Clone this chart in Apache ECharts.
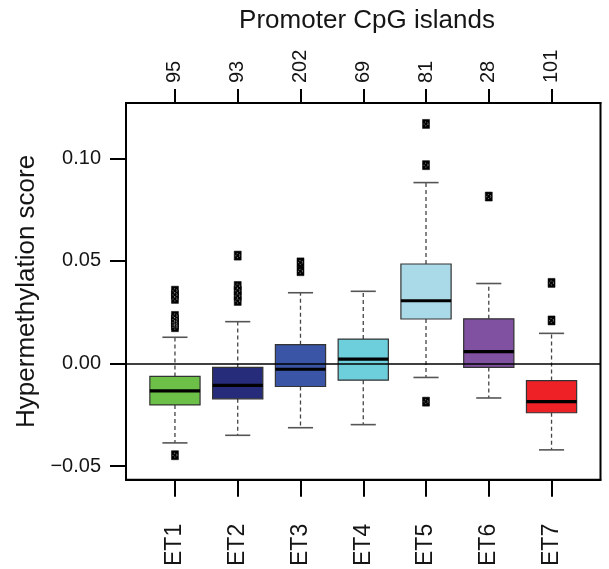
<!DOCTYPE html>
<html>
<head>
<meta charset="utf-8">
<script src="https://cdn.jsdelivr.net/npm/echarts@6/dist/echarts.min.js"></script>
<style>
  html, body { margin: 0; padding: 0; background: #fff; }
  #chart { width: 609px; height: 569px; }
</style>
</head>
<body>
<div id="chart"></div>
<script>
// group labels and sizes (top axis)
const categories = ['ET1', 'ET2', 'ET3', 'ET4', 'ET5', 'ET6', 'ET7'];
const counts = [95, 93, 202, 69, 81, 28, 101];

// box statistics
const lowerWhisker = [-0.0387, -0.0350, -0.0313, -0.0298, -0.0068, -0.0168, -0.0421];
const q1 = [-0.0202, -0.0172, -0.0112, -0.0081, 0.0217, -0.0019, -0.0240];
const median = [-0.0133, -0.0107, -0.0028, 0.0021, 0.0306, 0.0058, -0.0186];
const q3 = [-0.0063, -0.0019, 0.0092, 0.0119, 0.0485, 0.0218, -0.0083];
const upperWhisker = [0.0128, 0.0204, 0.0345, 0.0352, 0.0882, 0.0390, 0.0147];

// outliers per group
const outliers = [
  [-0.0447, 0.0355, 0.0335, 0.0315, 0.0232, 0.0215, 0.0200, 0.0188, 0.0177],
  [0.0526, 0.0378, 0.0355, 0.0330, 0.0305],
  [0.0493, 0.0450],
  [],
  [0.1168, 0.0967, -0.0186],
  [0.0814],
  [0.0393, 0.0210]
];

const yTicks = [-0.05, 0, 0.05, 0.10];
const boxColors = ['#6cbf47', '#272c7a', '#3a55a5', '#6dcedc', '#aad9e8', '#7f51a0', '#ee2226'];

const positions = categories.map((c, i) => i + 1);

const boxData = positions.map((x, i) => [x, lowerWhisker[i], q1[i], median[i], q3[i], upperWhisker[i]]);
const outlierData = [];
outliers.forEach((vals, i) => vals.forEach(v => outlierData.push([i + 1, v])));

function renderBox(params, api) {
  const x = api.value(0);
  const i = params.dataIndex;
  const pLow = api.coord([x, api.value(1)]);
  const pQ1 = api.coord([x, api.value(2)]);
  const pMed = api.coord([x, api.value(3)]);
  const pQ3 = api.coord([x, api.value(4)]);
  const pHigh = api.coord([x, api.value(5)]);
  const boxW = api.size([0.8, 0])[0];
  const capW = api.size([0.4, 0])[0];
  const cx = pMed[0];
  const whisker = { stroke: '#444', lineWidth: 1.3, lineDash: [4, 3] };
  const cap = { stroke: '#555', lineWidth: 1.6 };
  return {
    type: 'group',
    children: [
      { type: 'line', shape: { x1: cx, y1: pQ3[1], x2: cx, y2: pHigh[1] }, style: whisker },
      { type: 'line', shape: { x1: cx, y1: pQ1[1], x2: cx, y2: pLow[1] }, style: whisker },
      { type: 'line', shape: { x1: cx - capW / 2, y1: pHigh[1], x2: cx + capW / 2, y2: pHigh[1] }, style: cap },
      { type: 'line', shape: { x1: cx - capW / 2, y1: pLow[1], x2: cx + capW / 2, y2: pLow[1] }, style: cap },
      {
        type: 'rect',
        shape: { x: cx - boxW / 2, y: pQ3[1], width: boxW, height: pQ1[1] - pQ3[1] },
        style: { fill: boxColors[i], stroke: '#333', lineWidth: 1.2 }
      },
      { type: 'line', shape: { x1: cx - boxW / 2, y1: pMed[1], x2: cx + boxW / 2, y2: pMed[1] }, style: { stroke: '#000', lineWidth: 3.2 } }
    ]
  };
}

const chart = echarts.init(document.getElementById('chart'), null, { renderer: 'canvas' });

const fontFamily = '"Liberation Sans", Arial, Helvetica, sans-serif';
const textColor = '#151515';

const option = {
  animation: false,
  title: {
    text: 'Promoter CpG islands',
    left: 362,
    textAlign: 'center',
    top: 3,
    textStyle: { fontFamily: fontFamily, fontSize: 26, fontWeight: 'normal', color: textColor }
  },
  grid: {
    left: 126,
    top: 103,
    width: 474.5,
    height: 378,
    show: true,
    borderColor: '#000',
    borderWidth: 2,
    backgroundColor: 'transparent'
  },
  xAxis: [
    {
      type: 'value',
      position: 'bottom',
      min: 0.22,
      max: 7.78,
      splitLine: { show: false },
      axisLine: { show: true, onZero: false, lineStyle: { color: '#000', width: 2 } },
      axisTick: { show: true, customValues: positions, length: 17, lineStyle: { color: '#000', width: 2 } },
      axisLabel: {
        customValues: positions,
        rotate: 90,
        margin: 44,
        fontFamily: fontFamily,
        fontSize: 23,
        color: textColor,
        formatter: v => categories[Math.round(v) - 1]
      }
    },
    {
      type: 'value',
      position: 'top',
      min: 0.22,
      max: 7.78,
      splitLine: { show: false },
      axisLine: { show: true, onZero: false, lineStyle: { color: '#000', width: 2 } },
      axisTick: { show: true, customValues: positions, length: 14, lineStyle: { color: '#000', width: 2 } },
      axisLabel: {
        customValues: positions,
        rotate: -90,
        margin: 20,
        fontFamily: fontFamily,
        fontSize: 20,
        color: textColor,
        formatter: v => String(counts[Math.round(v) - 1])
      }
    }
  ],
  yAxis: {
    type: 'value',
    min: -0.0567,
    max: 0.127,
    name: 'Hypermethylation score',
    nameLocation: 'middle',
    nameGap: 86,
    nameTextStyle: { fontFamily: fontFamily, fontSize: 26, color: textColor },
    splitLine: { show: false },
    axisLine: { show: true, onZero: false, lineStyle: { color: '#000', width: 2 } },
    axisTick: { show: true, customValues: yTicks, length: 16, lineStyle: { color: '#000', width: 2 } },
    axisLabel: {
      customValues: yTicks,
      margin: 25,
      fontFamily: fontFamily,
      fontSize: 20,
      color: textColor,
      formatter: v => (v < 0 ? '\u2212' : '') + Math.abs(v).toFixed(2)
    }
  },
  series: [
    {
      type: 'custom',
      xAxisIndex: 0,
      renderItem: renderBox,
      data: boxData,
      encode: { x: 0, y: [1, 2, 3, 4, 5] },
      z: 3,
      markLine: {
        silent: true,
        symbol: 'none',
        label: { show: false },
        lineStyle: { color: '#000', width: 1.6, type: 'solid' },
        data: [{ yAxis: 0 }]
      }
    },
    {
      type: 'scatter',
      xAxisIndex: 0,
      data: outlierData,
      symbol: 'rect',
      symbolSize: [7, 9],
      itemStyle: { color: '#000', borderColor: '#000', borderWidth: 0.5, opacity: 1 },
      z: 4
    },
    {
      type: 'scatter',
      xAxisIndex: 0,
      data: outlierData,
      symbol: 'circle',
      symbolSize: 4,
      itemStyle: { color: 'transparent', borderColor: 'rgba(255,255,255,0.55)', borderWidth: 1, borderType: [1, 1.5], opacity: 1 },
      z: 5
    }
  ]
};

chart.setOption(option);
</script>
</body>
</html>
